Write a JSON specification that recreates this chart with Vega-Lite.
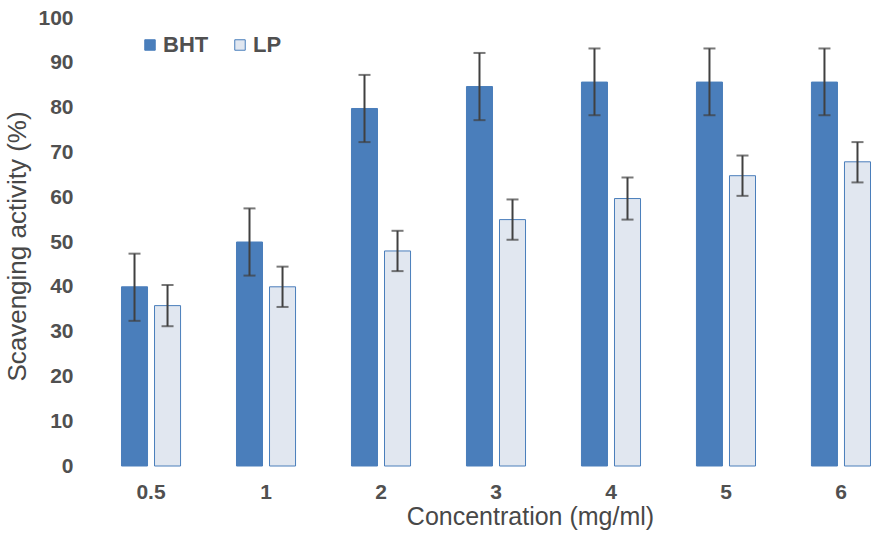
{
  "$schema": "https://vega.github.io/schema/vega-lite/v6.json",
  "width": 770,
  "height": 448,
  "autosize": {"type": "none"},
  "padding": {"left": 111, "top": 18, "right": 0, "bottom": 83},
  "background": "white",
  "data": {
    "values": [
      {"conc": "0.5", "series": "BHT", "value": 40, "lo": 32.4, "hi": 47.4},
      {"conc": "0.5", "series": "LP", "value": 35.8, "lo": 31.2, "hi": 40.4},
      {"conc": "1", "series": "BHT", "value": 50, "lo": 42.5, "hi": 57.5},
      {"conc": "1", "series": "LP", "value": 40, "lo": 35.5, "hi": 44.5},
      {"conc": "2", "series": "BHT", "value": 79.8, "lo": 72.3, "hi": 87.3},
      {"conc": "2", "series": "LP", "value": 48, "lo": 43.5, "hi": 52.5},
      {"conc": "3", "series": "BHT", "value": 84.7, "lo": 77.2, "hi": 92.2},
      {"conc": "3", "series": "LP", "value": 55, "lo": 50.5, "hi": 59.5},
      {"conc": "4", "series": "BHT", "value": 85.7, "lo": 78.3, "hi": 93.2},
      {"conc": "4", "series": "LP", "value": 59.7, "lo": 55, "hi": 64.4},
      {"conc": "5", "series": "BHT", "value": 85.7, "lo": 78.3, "hi": 93.2},
      {"conc": "5", "series": "LP", "value": 64.8, "lo": 60.3, "hi": 69.3},
      {"conc": "6", "series": "BHT", "value": 85.7, "lo": 78.3, "hi": 93.2},
      {"conc": "6", "series": "LP", "value": 67.9, "lo": 63.3, "hi": 72.3}
    ]
  },
  "encoding": {
    "x": {
      "field": "conc",
      "type": "nominal",
      "sort": ["0.5", "1", "2", "3", "4", "5", "6"],
      "scale": {"paddingInner": 0.4865, "paddingOuter": 0.0913},
      "axis": {
        "title": "Concentration (mg/ml)",
        "labelAngle": 0,
        "domain": false,
        "ticks": false,
        "tickSize": 0,
        "labelPadding": 15,
        "labelFontSize": 21,
        "labelFontWeight": "bold",
        "labelColor": "#505050",
        "titleFontSize": 25,
        "titleFontWeight": "normal",
        "titleColor": "#484848",
        "titlePadding": 2,
        "titleX": 419
      }
    },
    "xOffset": {
      "field": "series",
      "type": "nominal",
      "scale": {"paddingInner": 0.212, "paddingOuter": 0}
    }
  },
  "layer": [
    {
      "mark": {"type": "bar", "stroke": "#4a7ebb", "strokeWidth": 1},
      "encoding": {
        "y": {
          "field": "value",
          "type": "quantitative",
          "scale": {"domain": [0, 100]},
          "axis": {
            "title": "Scavenging activity (%)",
            "values": [0, 10, 20, 30, 40, 50, 60, 70, 80, 90, 100],
            "grid": false,
            "domain": false,
            "ticks": false,
            "tickSize": 0,
            "labelPadding": 38,
            "labelFontSize": 21,
            "labelFontWeight": "bold",
            "labelColor": "#505050",
            "titleFontSize": 26,
            "titleFontWeight": "normal",
            "titleColor": "#484848",
            "titlePadding": 7,
            "titleY": 228
          }
        },
        "color": {
          "field": "series",
          "type": "nominal",
          "scale": {"domain": ["BHT", "LP"], "range": ["#4a7ebb", "#e1e7f0"]},
          "legend": {
            "title": null,
            "orient": "none",
            "legendX": 28,
            "legendY": 16,
            "direction": "horizontal",
            "symbolType": "square",
            "symbolSize": 110,
            "symbolStrokeColor": "#4a7ebb",
            "symbolStrokeWidth": 1,
            "symbolOpacity": 1,
            "labelFontSize": 22,
            "labelFontWeight": "bold",
            "labelColor": "#505050",
            "labelOffset": 2,
            "columnPadding": 20
          }
        }
      }
    },
    {
      "mark": {"type": "rule", "color": "#404040", "strokeWidth": 2},
      "encoding": {
        "y": {"field": "lo", "type": "quantitative"},
        "y2": {"field": "hi"}
      }
    },
    {
      "mark": {"type": "tick", "color": "#404040", "thickness": 2, "size": 12},
      "encoding": {
        "y": {"field": "lo", "type": "quantitative"}
      }
    },
    {
      "mark": {"type": "tick", "color": "#404040", "thickness": 2, "size": 12},
      "encoding": {
        "y": {"field": "hi", "type": "quantitative"}
      }
    }
  ],
  "config": {
    "view": {"stroke": null},
    "font": "Liberation Sans"
  }
}
